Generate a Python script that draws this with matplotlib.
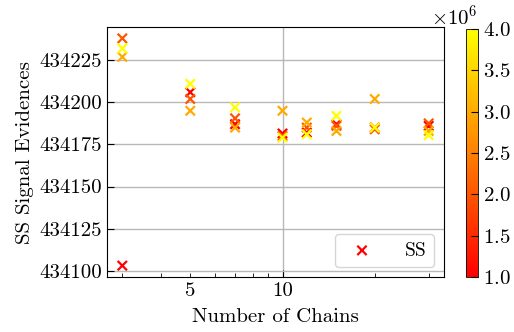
import matplotlib.pyplot as plt
import matplotlib.ticker as ticker
import numpy as np

plt.rcParams['font.family'] = 'serif'
plt.rcParams['font.serif'] = ['cmr10']
plt.rcParams['mathtext.fontset'] = 'cm'
plt.rcParams['axes.formatter.use_mathtext'] = True
plt.rcParams['font.size'] = 15

chains = [3, 5, 7, 10, 12, 15, 20, 30]
nlive = [1e6, 2e6, 3e6, 4e6]

# evidence per chain count, one list per number of live points
ev_1 = [434103, 434206, 434187, 434181.5, 434182, 434187, 434185, 434186]
ev_2 = [434238, 434202, 434190.5, 434180, 434185, 434186, 434184, 434187.5]
ev_3 = [434227, 434195, 434185, 434195, 434188, 434183, 434202, 434183]
ev_4 = [434232, 434211, 434197, 434179, 434181, 434192, 434185, 434180.5]

x = np.tile(chains, 4)
y = np.concatenate([ev_1, ev_2, ev_3, ev_4])
c = np.repeat(nlive, len(chains))

fig = plt.figure(figsize=(5.14, 3.32), dpi=100)
ax = fig.add_axes([107/514, 1-277/332, 337/514, 250/332])
cax = fig.add_axes([466/514, 1-277/332, 12/514, 248/332])

sc = ax.scatter(x, y, c=c, cmap='autumn', marker='x', s=45, linewidths=1.6,
                label='SS', zorder=3)
ax.set_xscale('log')
ax.xaxis.set_major_locator(ticker.FixedLocator([10]))
ax.xaxis.set_major_formatter(ticker.FixedFormatter(['10']))
ax.xaxis.set_minor_locator(ticker.FixedLocator([3, 4, 5, 6, 7, 8, 9, 20, 30]))
ax.xaxis.set_minor_formatter(ticker.FuncFormatter(lambda v, p: '5' if abs(v - 5) < 1e-6 else ''))
ax.yaxis.set_major_locator(ticker.MultipleLocator(25))
ax.yaxis.set_major_formatter(ticker.FormatStrFormatter('%d'))
ax.tick_params(which='both', direction='in')
ax.tick_params(which='major', length=5)
ax.tick_params(which='minor', length=3)
ax.grid(True, which='major', color='#b8b8b8', lw=1)
ax.set_axisbelow(True)

ax.set_xlabel('Number of Chains', labelpad=6)
ax.set_ylabel('SS Signal Evidences', labelpad=4)
ax.legend(loc='lower right', fontsize=14, borderpad=0.4, handletextpad=1.2)

cb = fig.colorbar(sc, cax=cax)
cb.locator = ticker.MultipleLocator(5e5)
cb.formatter = ticker.ScalarFormatter(useMathText=True)
cb.update_ticks()
cb.ax.tick_params(direction='in', length=5)
cb.outline.set_linewidth(0.6)

fig.savefig('out.png', dpi=100)
